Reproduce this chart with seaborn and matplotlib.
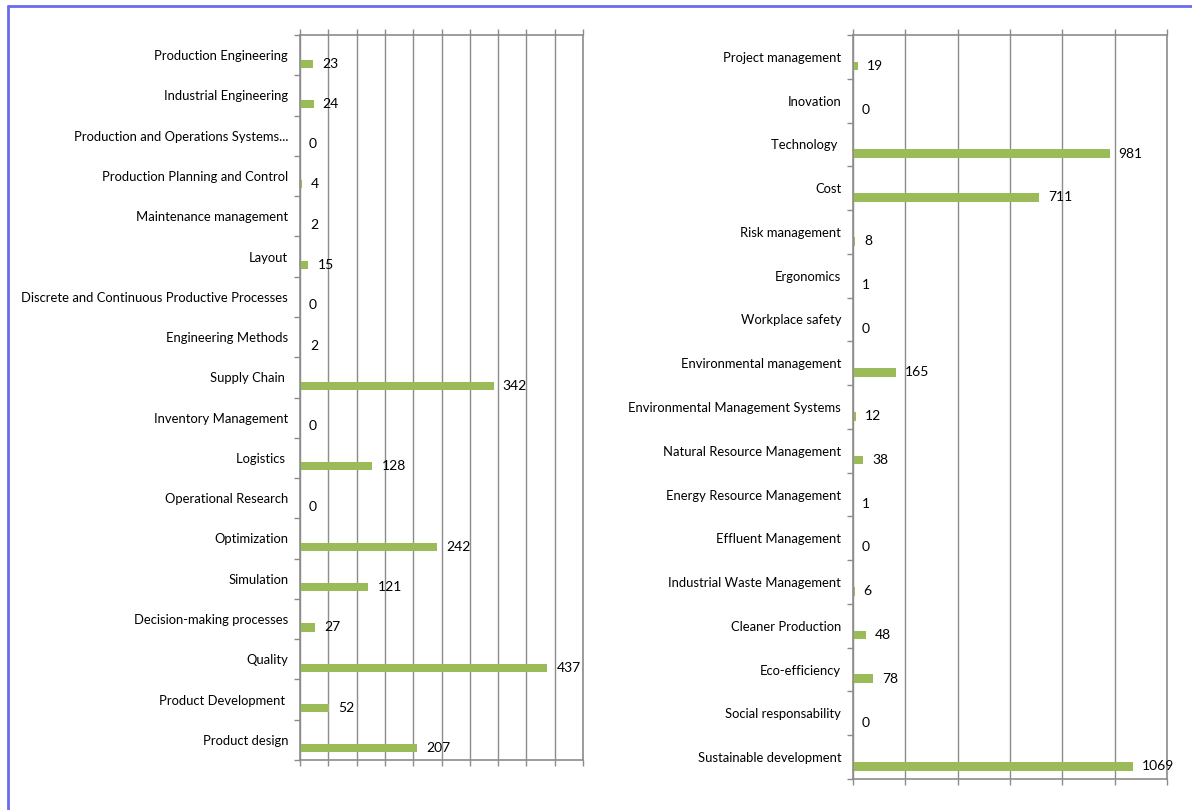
import pandas as pd
import seaborn as sns
import matplotlib.pyplot as plt
from matplotlib.lines import Line2D
from matplotlib.ticker import MultipleLocator, FixedLocator

# left panel categories and counts
left_cats = ["Production Engineering", "Industrial Engineering", "Production and Operations Systems...",
             "Production Planning and Control", "Maintenance management", "Layout",
             "Discrete and Continuous Productive Processes", "Engineering Methods", "Supply Chain ",
             "Inventory Management", "Logistics ", "Operational Research", "Optimization", "Simulation",
             "Decision-making processes", "Quality", "Product Development ", "Product design"]
left_vals = [23, 24, 0, 4, 2, 15, 0, 2, 342, 0, 128, 0, 242, 121, 27, 437, 52, 207]

# right panel categories and counts
right_cats = ["Project management", "Inovation", "Technology ", "Cost", "Risk management", "Ergonomics",
              "Workplace safety", "Environmental management", "Environmental Management Systems",
              "Natural Resource Management", "Energy Resource Management", "Effluent Management",
              "Industrial Waste Management", "Cleaner Production", "Eco-efficiency",
              "Social responsability", "Sustainable development"]
right_vals = [19, 0, 981, 711, 8, 1, 0, 165, 12, 38, 1, 0, 6, 48, 78, 0, 1069]

sns.set_style("white")
plt.rcParams['font.family'] = ['Lato', 'DejaVu Sans']

GREEN = "#9BBB59"
GRID = "#8c8c8c"
FS = 9.4


def make_long(cats, vals):
    # empty first series so the real bars sit in the lower half of each row (like the excel chart)
    pad = pd.DataFrame({'cat': cats, 'n': [0] * len(cats), 'series': 'pad'})
    real = pd.DataFrame({'cat': cats, 'n': vals, 'series': 'count'})
    return pd.concat([pad, real], ignore_index=True)


def draw_panel(ax, cats, vals, xmax, step):
    df = make_long(cats, vals)
    sns.barplot(data=df, x='n', y='cat', hue='series', hue_order=['pad', 'count'],
                palette={'pad': 'white', 'count': GREEN}, order=cats, orient='h',
                width=0.84, gap=0.52, dodge=True, linewidth=0, saturation=1,
                legend=False, ax=ax)
    ax.bar_label(ax.containers[1], labels=[str(v) for v in vals], padding=6.5,
                 fontsize=FS + 0.6, color='black')
    ax.set_xlim(0, xmax)
    ax.set_ylim(len(cats) - 0.5, -0.5)
    ax.set_xlabel('')
    ax.set_ylabel('')
    ax.xaxis.set_major_locator(MultipleLocator(step))
    ax.set_xticklabels([])
    ax.grid(axis='x', color=GRID, linewidth=1)
    ax.set_axisbelow(True)
    ax.yaxis.set_minor_locator(FixedLocator([i + 0.5 for i in range(-1, len(cats))]))
    ax.tick_params(axis='y', which='major', length=0, pad=8.5, labelsize=FS, labelcolor='black')
    ax.tick_params(axis='y', which='minor', left=True, length=4, width=1, color=GRID, direction='out')
    ax.tick_params(axis='x', which='major', bottom=True, top=True, length=4, width=1,
                   color=GRID, direction='out')
    for side in ['left', 'bottom', 'top', 'right']:
        ax.spines[side].set_color(GRID)
        ax.spines[side].set_linewidth(1.2)


fig = plt.figure(figsize=(11.92, 8.10), dpi=100)
W, H = 1192, 810
ax1 = fig.add_axes([300 / W, (H - 760) / H, 283 / W, 725 / H])
ax2 = fig.add_axes([853 / W, (H - 779) / H, 314 / W, 744 / H])

draw_panel(ax1, left_cats, left_vals, 500, 50)
draw_panel(ax2, right_cats, right_vals, 1200, 200)

# blue frame around the picture
fig.add_artist(Line2D([8 / W, 1], [1 - 6 / H, 1 - 6 / H], color="#6b6bef", linewidth=2))
fig.add_artist(Line2D([8 / W, 8 / W], [0, 1 - 6 / H], color="#6b6bef", linewidth=2))

plt.savefig("out.png", dpi=100)
plt.close()
